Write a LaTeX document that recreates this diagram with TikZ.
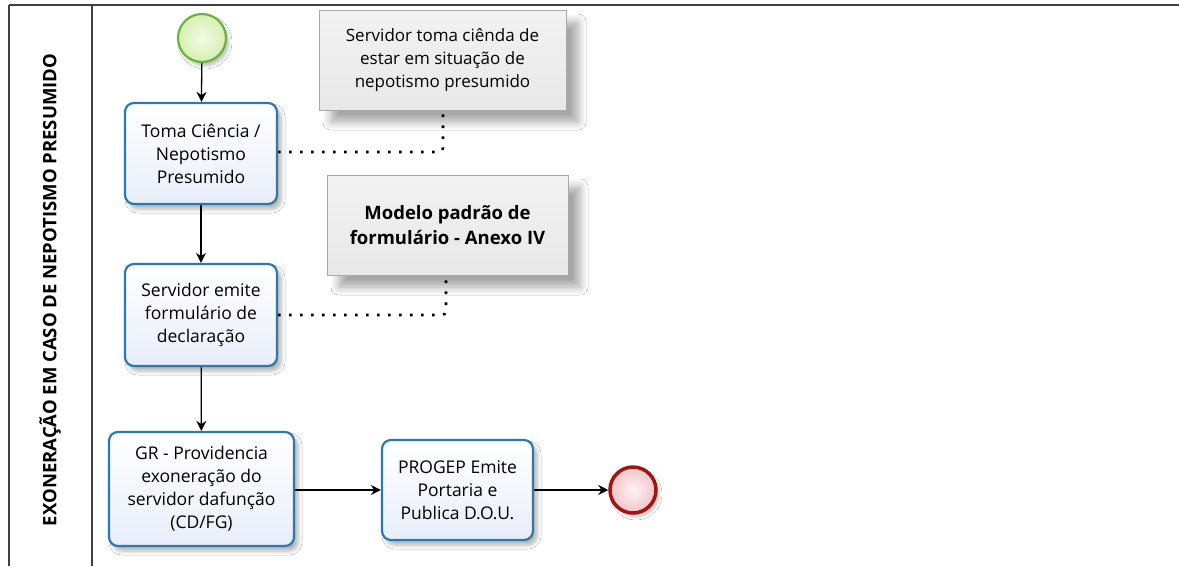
\documentclass[tikz,border=0pt]{standalone}
\usepackage{fontspec}
\setmainfont{Open Sans}
\usetikzlibrary{arrows.meta,shadows.blur}
\definecolor{taskborder}{HTML}{2A7AAF}
\definecolor{taskfill}{HTML}{E8EEFA}
\definecolor{startborder}{HTML}{6CB33E}
\definecolor{startfill}{HTML}{D6F0B0}
\definecolor{endborder}{HTML}{A01414}
\definecolor{endfill}{HTML}{F2C4C8}
\definecolor{annoborder}{HTML}{A8A8A8}
\definecolor{framecol}{HTML}{404040}
\tikzset{
  task/.style={draw=taskborder, line width=2.2pt, rounded corners=9pt,
    top color=white, bottom color=taskfill, align=center,
    font=\fontsize{17.5}{23}\selectfont, inner sep=0pt,
    blur shadow={shadow xshift=4pt, shadow yshift=-5pt, shadow blur steps=6, shadow blur radius=4pt, shadow opacity=30}},
  anno/.style={draw=annoborder, line width=0.8pt, top color=white!90!gray, bottom color=white!82!gray,
    align=center, font=\fontsize{17}{23}\selectfont, inner sep=0pt,
    blur shadow={shadow xshift=12pt, shadow yshift=-12pt, shadow blur steps=8, shadow blur radius=8pt, shadow opacity=35}},
  startev/.style={circle, draw=startborder, line width=2.2pt, inner color=white!70!startfill, outer color=startfill,
    minimum size=48pt, inner sep=0pt,
    blur shadow={shadow xshift=3pt, shadow yshift=-4pt, shadow blur steps=5, shadow blur radius=3pt, shadow opacity=25}},
  endev/.style={circle, draw=endborder, line width=3.5pt, inner color=white!80!endfill, outer color=endfill,
    minimum size=46pt, inner sep=0pt,
    blur shadow={shadow xshift=3pt, shadow yshift=-4pt, shadow blur steps=5, shadow blur radius=3pt, shadow opacity=25}},
  flow/.style={line width=1.3pt, -{Stealth[length=10pt,width=10pt]}},
  assoc/.style={line width=2.6pt, dash pattern=on 2.6pt off 8.4pt, rounded corners=4pt},
  frameline/.style={draw=framecol, line width=2pt}
}
\begin{document}
\begin{tikzpicture}[x=1pt,y=-1pt]
\useasboundingbox (0,0) rectangle (1179,566);
\fill[white] (0,0) rectangle (1179,566);
% frame
\draw[frameline] (9,5) -- (1179,5);
\draw[frameline] (9,5) -- (9,566);
\draw[frameline] (92,5) -- (92,566);
\node[rotate=90, font=\fontsize{18.5}{22}\selectfont\bfseries] (lane) at (50,290) {EXONERAÇÃO EM CASO DE NEPOTISMO PRESUMIDO};
% annotations
\node[anno, minimum width=247pt, minimum height=100pt] (an1) at (442.5,60) {Servidor toma ciênda de\\estar em situação de\\nepotismo presumido};
\node[anno, minimum width=241pt, minimum height=100pt, font=\fontsize{18.5}{25}\selectfont\bfseries] (an2) at (447.5,225) {Modelo padrão de\\formulário - Anexo IV};
% events and tasks
\node[startev] (start) at (202,38) {};
\node[task, minimum width=152pt, minimum height=101pt] (t1) at (201,153.5) {Toma Ciência /\\Nepotismo\\Presumido};
\node[task, minimum width=152pt, minimum height=102pt] (t2) at (201,315) {Servidor emite\\formulário de\\declaração};
\node[task, minimum width=185pt, minimum height=114pt] (t3) at (201.5,489) {GR - Providencia\\exoneração do\\servidor dafunção\\(CD/FG)};
\node[task, minimum width=151pt, minimum height=100pt] (t4) at (457.5,490) {PROGEP Emite\\Portaria e\\Publica D.O.U.};
\node[endev] (end) at (633,490) {};
% flows
\draw[flow] (start) -- (t1);
\draw[flow] (t1) -- (t2);
\draw[flow] (t2) -- (t3);
\draw[flow] (t3.east |- t4) -- (t4);
\draw[flow] (t4) -- (end);
% associations
\coordinate (c1) at (443,152);
\coordinate (c2) at (446,315);
\draw[assoc] (t1.east |- c1) -- (c1) -- (c1 |- an1.south);
\draw[assoc] (t2.east) -- (c2) -- (c2 |- an2.south);
\end{tikzpicture}
\end{document}
